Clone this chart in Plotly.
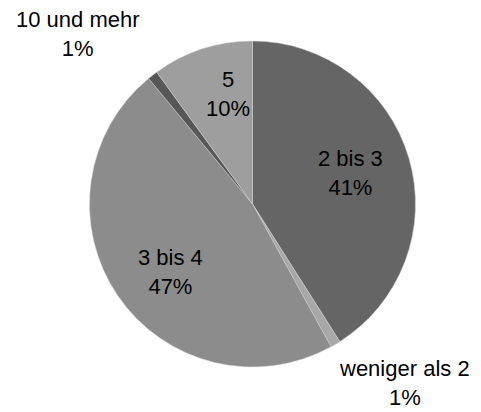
import plotly.graph_objects as go

labels = ["2 bis 3", "weniger als 2", "3 bis 4", "10 und mehr", "5"]
values = [41, 1, 47, 1, 10]
colors = ["#656565", "#a8a8a8", "#8c8c8c", "#575757", "#9e9e9e"]

W, H = 481, 412
font_family = "Liberation Sans, Arial, sans-serif"
font_size = 22

# label anchor points (pixels from top-left), in slice order
label_px = [(350, 173), (404, 383), (170, 272), (78, 34), (228, 94)]

fig = go.Figure(go.Pie(
    labels=labels,
    values=values,
    sort=False,
    direction="clockwise",
    rotation=0,
    marker=dict(colors=colors, line=dict(color="#d0d0d0", width=0.5)),
    textinfo="none",
    domain=dict(x=[89 / W, 416 / W], y=[45 / H, 371 / H]),
    showlegend=False,
    hoverinfo="label+percent",
))

total = sum(values)
for lab, val, (px, py) in zip(labels, values, label_px):
    fig.add_annotation(
        x=px / W, y=1 - py / H, xref="paper", yref="paper",
        xanchor="center", yanchor="middle",
        text=f"{lab}<br>{round(val / total * 100)}%",
        showarrow=False, align="center",
        font=dict(family=font_family, size=font_size, color="black"),
    )

fig.update_layout(
    width=W, height=H,
    margin=dict(l=0, r=0, t=0, b=0),
    paper_bgcolor="white", plot_bgcolor="white",
)
fig.write_html("out.html", config={"displayModeBar": False},
               post_script="document.body.style.margin='0';")
